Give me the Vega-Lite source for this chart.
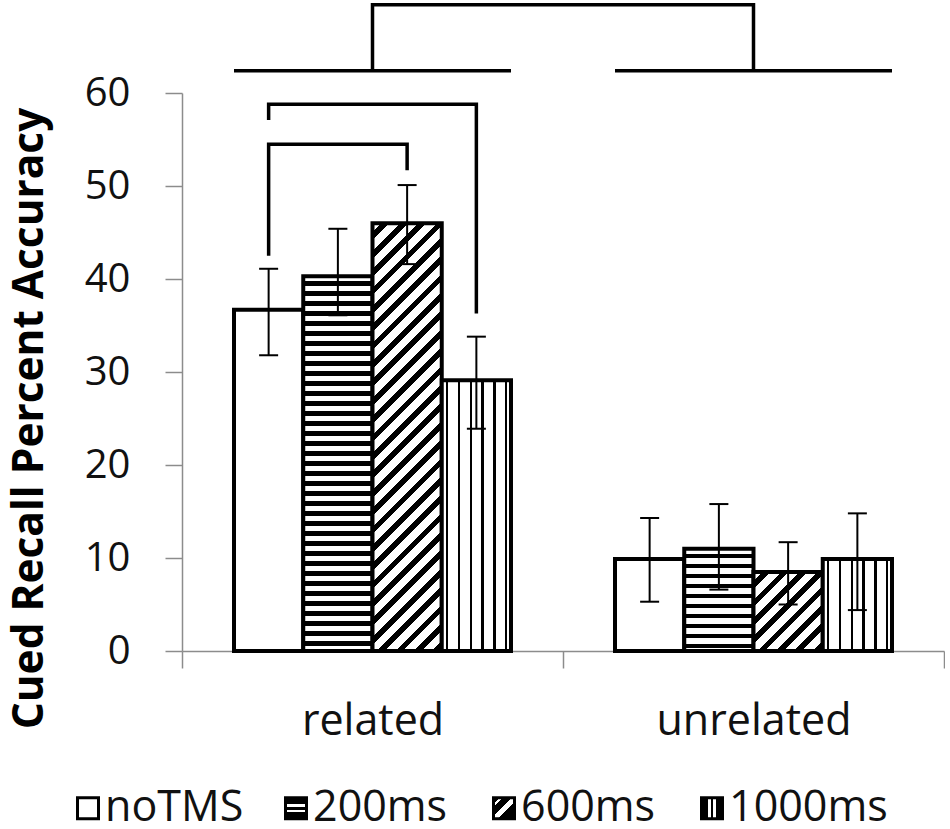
{
  "$schema": "https://vega.github.io/schema/vega-lite/v6.json",
  "background": "white",
  "padding": {"left": 8, "top": -3, "right": 0, "bottom": 0},
  "config": {"view": {"stroke": null}, "font": "Open Sans"},
  "datasets": {
    "bars": [
      {"rel": "related", "cond": "noTMS", "v": 36.7, "lo": 31.8, "hi": 41.1},
      {"rel": "related", "cond": "200ms", "v": 40.3, "lo": 36.1, "hi": 45.4},
      {"rel": "related", "cond": "600ms", "v": 46.0, "lo": 41.6, "hi": 50.1},
      {"rel": "related", "cond": "1000ms", "v": 29.1, "lo": 23.9, "hi": 33.8},
      {"rel": "unrelated", "cond": "noTMS", "v": 9.9, "lo": 5.3, "hi": 14.3},
      {"rel": "unrelated", "cond": "200ms", "v": 11.0, "lo": 6.6, "hi": 15.8},
      {"rel": "unrelated", "cond": "600ms", "v": 8.5, "lo": 5.0, "hi": 11.7},
      {"rel": "unrelated", "cond": "1000ms", "v": 9.9, "lo": 4.4, "hi": 14.8}
    ],
    "brackets": [
      {"id": "b1", "ord": 1, "rel": "related", "cond": "noTMS", "v": 57.1},
      {"id": "b1", "ord": 2, "rel": "related", "cond": "noTMS", "v": 58.8},
      {"id": "b1", "ord": 3, "rel": "related", "cond": "1000ms", "v": 58.8},
      {"id": "b1", "ord": 4, "rel": "related", "cond": "1000ms", "v": 36.3},
      {"id": "b2", "ord": 1, "rel": "related", "cond": "noTMS", "v": 42.5},
      {"id": "b2", "ord": 2, "rel": "related", "cond": "noTMS", "v": 54.5},
      {"id": "b2", "ord": 3, "rel": "related", "cond": "600ms", "v": 54.5},
      {"id": "b2", "ord": 4, "rel": "related", "cond": "600ms", "v": 51.7}
    ],
    "topBracket": [
      {"ord": 1, "rel": "related", "v": 62.4},
      {"ord": 2, "rel": "related", "v": 69.5},
      {"ord": 3, "rel": "unrelated", "v": 69.5},
      {"ord": 4, "rel": "unrelated", "v": 62.4}
    ],
    "groupLines": [
      {"rel": "related", "v": 62.4},
      {"rel": "unrelated", "v": 62.4}
    ]
  },
  "width": 762,
  "height": 558,
  "resolve": {"scale": {"x": "independent"}, "axis": {"x": "independent"}},
  "layer": [
    {
      "layer": [
        {
          "data": {"name": "bars"},
          "mark": {"type": "bar", "stroke": "#000", "strokeWidth": 4},
          "encoding": {
            "x": {
              "field": "rel", "type": "nominal", "sort": ["related", "unrelated"], "title": null,
              "scale": {"paddingInner": 0, "paddingOuter": 0},
              "axis": {"labelFontSize": 43, "labelColor": "#111", "labelPadding": 32, "labelAngle": 0, "labelLimit": 500, "tickSize": 17, "tickColor": "#8c8c8c", "tickWidth": 1.5, "domainColor": "#8c8c8c", "domainWidth": 1.5, "tickBand": "extent", "grid": false, "title": null}
            },
            "xOffset": {"field": "cond", "type": "nominal", "sort": ["noTMS", "200ms", "600ms", "1000ms"], "scale": {"paddingInner": 0, "paddingOuter": 0.751}},
            "y": {
              "field": "v", "type": "quantitative", "title": "Cued Recall Percent Accuracy",
              "scale": {"domain": [0, 60], "nice": false},
              "axis": {"values": [0, 10, 20, 30, 40, 50, 60], "labelFontSize": 40, "labelColor": "#111", "labelPadding": 35, "tickSize": 17, "tickColor": "#8c8c8c", "tickWidth": 1.5, "domainColor": "#8c8c8c", "domainWidth": 1.5, "grid": false, "titleFontSize": 42.4, "titleFontWeight": "bold", "titleColor": "#000", "titlePadding": 33, "titleY": 325}
            },
            "fill": {
              "condition": [
                {"test": "datum.cond === '200ms' && datum.rel === 'related'", "value": {"gradient": "linear", "x1": 0, "y1": 0, "x2": 0, "y2": 1, "stops": [
                  {"offset": 0, "color": "#fff"},
                  {"offset": 0.0133, "color": "#fff"}, {"offset": 0.0133, "color": "#000"}, {"offset": 0.0253, "color": "#000"}, {"offset": 0.0253, "color": "#fff"},
                  {"offset": 0.0400, "color": "#fff"}, {"offset": 0.0400, "color": "#000"}, {"offset": 0.0520, "color": "#000"}, {"offset": 0.0520, "color": "#fff"},
                  {"offset": 0.0667, "color": "#fff"}, {"offset": 0.0667, "color": "#000"}, {"offset": 0.0787, "color": "#000"}, {"offset": 0.0787, "color": "#fff"},
                  {"offset": 0.0934, "color": "#fff"}, {"offset": 0.0934, "color": "#000"}, {"offset": 0.1054, "color": "#000"}, {"offset": 0.1054, "color": "#fff"},
                  {"offset": 0.1201, "color": "#fff"}, {"offset": 0.1201, "color": "#000"}, {"offset": 0.1321, "color": "#000"}, {"offset": 0.1321, "color": "#fff"},
                  {"offset": 0.1468, "color": "#fff"}, {"offset": 0.1468, "color": "#000"}, {"offset": 0.1588, "color": "#000"}, {"offset": 0.1588, "color": "#fff"},
                  {"offset": 0.1734, "color": "#fff"}, {"offset": 0.1734, "color": "#000"}, {"offset": 0.1854, "color": "#000"}, {"offset": 0.1854, "color": "#fff"},
                  {"offset": 0.2001, "color": "#fff"}, {"offset": 0.2001, "color": "#000"}, {"offset": 0.2121, "color": "#000"}, {"offset": 0.2121, "color": "#fff"},
                  {"offset": 0.2268, "color": "#fff"}, {"offset": 0.2268, "color": "#000"}, {"offset": 0.2388, "color": "#000"}, {"offset": 0.2388, "color": "#fff"},
                  {"offset": 0.2535, "color": "#fff"}, {"offset": 0.2535, "color": "#000"}, {"offset": 0.2655, "color": "#000"}, {"offset": 0.2655, "color": "#fff"},
                  {"offset": 0.2802, "color": "#fff"}, {"offset": 0.2802, "color": "#000"}, {"offset": 0.2922, "color": "#000"}, {"offset": 0.2922, "color": "#fff"},
                  {"offset": 0.3068, "color": "#fff"}, {"offset": 0.3068, "color": "#000"}, {"offset": 0.3188, "color": "#000"}, {"offset": 0.3188, "color": "#fff"},
                  {"offset": 0.3335, "color": "#fff"}, {"offset": 0.3335, "color": "#000"}, {"offset": 0.3455, "color": "#000"}, {"offset": 0.3455, "color": "#fff"},
                  {"offset": 0.3602, "color": "#fff"}, {"offset": 0.3602, "color": "#000"}, {"offset": 0.3722, "color": "#000"}, {"offset": 0.3722, "color": "#fff"},
                  {"offset": 0.3869, "color": "#fff"}, {"offset": 0.3869, "color": "#000"}, {"offset": 0.3989, "color": "#000"}, {"offset": 0.3989, "color": "#fff"},
                  {"offset": 0.4136, "color": "#fff"}, {"offset": 0.4136, "color": "#000"}, {"offset": 0.4256, "color": "#000"}, {"offset": 0.4256, "color": "#fff"},
                  {"offset": 0.4402, "color": "#fff"}, {"offset": 0.4402, "color": "#000"}, {"offset": 0.4522, "color": "#000"}, {"offset": 0.4522, "color": "#fff"},
                  {"offset": 0.4669, "color": "#fff"}, {"offset": 0.4669, "color": "#000"}, {"offset": 0.4789, "color": "#000"}, {"offset": 0.4789, "color": "#fff"},
                  {"offset": 0.4936, "color": "#fff"}, {"offset": 0.4936, "color": "#000"}, {"offset": 0.5056, "color": "#000"}, {"offset": 0.5056, "color": "#fff"},
                  {"offset": 0.5203, "color": "#fff"}, {"offset": 0.5203, "color": "#000"}, {"offset": 0.5323, "color": "#000"}, {"offset": 0.5323, "color": "#fff"},
                  {"offset": 0.5470, "color": "#fff"}, {"offset": 0.5470, "color": "#000"}, {"offset": 0.5590, "color": "#000"}, {"offset": 0.5590, "color": "#fff"},
                  {"offset": 0.5736, "color": "#fff"}, {"offset": 0.5736, "color": "#000"}, {"offset": 0.5856, "color": "#000"}, {"offset": 0.5856, "color": "#fff"},
                  {"offset": 0.6003, "color": "#fff"}, {"offset": 0.6003, "color": "#000"}, {"offset": 0.6123, "color": "#000"}, {"offset": 0.6123, "color": "#fff"},
                  {"offset": 0.6270, "color": "#fff"}, {"offset": 0.6270, "color": "#000"}, {"offset": 0.6390, "color": "#000"}, {"offset": 0.6390, "color": "#fff"},
                  {"offset": 0.6537, "color": "#fff"}, {"offset": 0.6537, "color": "#000"}, {"offset": 0.6657, "color": "#000"}, {"offset": 0.6657, "color": "#fff"},
                  {"offset": 0.6804, "color": "#fff"}, {"offset": 0.6804, "color": "#000"}, {"offset": 0.6924, "color": "#000"}, {"offset": 0.6924, "color": "#fff"},
                  {"offset": 0.7070, "color": "#fff"}, {"offset": 0.7070, "color": "#000"}, {"offset": 0.7190, "color": "#000"}, {"offset": 0.7190, "color": "#fff"},
                  {"offset": 0.7337, "color": "#fff"}, {"offset": 0.7337, "color": "#000"}, {"offset": 0.7457, "color": "#000"}, {"offset": 0.7457, "color": "#fff"},
                  {"offset": 0.7604, "color": "#fff"}, {"offset": 0.7604, "color": "#000"}, {"offset": 0.7724, "color": "#000"}, {"offset": 0.7724, "color": "#fff"},
                  {"offset": 0.7871, "color": "#fff"}, {"offset": 0.7871, "color": "#000"}, {"offset": 0.7991, "color": "#000"}, {"offset": 0.7991, "color": "#fff"},
                  {"offset": 0.8138, "color": "#fff"}, {"offset": 0.8138, "color": "#000"}, {"offset": 0.8258, "color": "#000"}, {"offset": 0.8258, "color": "#fff"},
                  {"offset": 0.8404, "color": "#fff"}, {"offset": 0.8404, "color": "#000"}, {"offset": 0.8524, "color": "#000"}, {"offset": 0.8524, "color": "#fff"},
                  {"offset": 0.8671, "color": "#fff"}, {"offset": 0.8671, "color": "#000"}, {"offset": 0.8791, "color": "#000"}, {"offset": 0.8791, "color": "#fff"},
                  {"offset": 0.8938, "color": "#fff"}, {"offset": 0.8938, "color": "#000"}, {"offset": 0.9058, "color": "#000"}, {"offset": 0.9058, "color": "#fff"},
                  {"offset": 0.9205, "color": "#fff"}, {"offset": 0.9205, "color": "#000"}, {"offset": 0.9325, "color": "#000"}, {"offset": 0.9325, "color": "#fff"},
                  {"offset": 0.9472, "color": "#fff"}, {"offset": 0.9472, "color": "#000"}, {"offset": 0.9592, "color": "#000"}, {"offset": 0.9592, "color": "#fff"},
                  {"offset": 0.9738, "color": "#fff"}, {"offset": 0.9738, "color": "#000"}, {"offset": 0.9858, "color": "#000"}, {"offset": 0.9858, "color": "#fff"},
                  {"offset": 1, "color": "#fff"}
                ]}},
                {"test": "datum.cond === '200ms' && datum.rel === 'unrelated'", "value": {"gradient": "linear", "x1": 0, "y1": 0, "x2": 0, "y2": 1, "stops": [
                  {"offset": 0, "color": "#fff"},
                  {"offset": 0.0489, "color": "#fff"}, {"offset": 0.0489, "color": "#000"}, {"offset": 0.0929, "color": "#000"}, {"offset": 0.0929, "color": "#fff"},
                  {"offset": 0.1466, "color": "#fff"}, {"offset": 0.1466, "color": "#000"}, {"offset": 0.1906, "color": "#000"}, {"offset": 0.1906, "color": "#fff"},
                  {"offset": 0.2444, "color": "#fff"}, {"offset": 0.2444, "color": "#000"}, {"offset": 0.2884, "color": "#000"}, {"offset": 0.2884, "color": "#fff"},
                  {"offset": 0.3421, "color": "#fff"}, {"offset": 0.3421, "color": "#000"}, {"offset": 0.3861, "color": "#000"}, {"offset": 0.3861, "color": "#fff"},
                  {"offset": 0.4399, "color": "#fff"}, {"offset": 0.4399, "color": "#000"}, {"offset": 0.4839, "color": "#000"}, {"offset": 0.4839, "color": "#fff"},
                  {"offset": 0.5376, "color": "#fff"}, {"offset": 0.5376, "color": "#000"}, {"offset": 0.5816, "color": "#000"}, {"offset": 0.5816, "color": "#fff"},
                  {"offset": 0.6354, "color": "#fff"}, {"offset": 0.6354, "color": "#000"}, {"offset": 0.6794, "color": "#000"}, {"offset": 0.6794, "color": "#fff"},
                  {"offset": 0.7331, "color": "#fff"}, {"offset": 0.7331, "color": "#000"}, {"offset": 0.7771, "color": "#000"}, {"offset": 0.7771, "color": "#fff"},
                  {"offset": 0.8309, "color": "#fff"}, {"offset": 0.8309, "color": "#000"}, {"offset": 0.8749, "color": "#000"}, {"offset": 0.8749, "color": "#fff"},
                  {"offset": 0.9286, "color": "#fff"}, {"offset": 0.9286, "color": "#000"}, {"offset": 0.9726, "color": "#000"}, {"offset": 0.9726, "color": "#fff"},
                  {"offset": 1, "color": "#fff"}
                ]}},
                {"test": "datum.cond === '600ms' && datum.rel === 'related'", "value": {"gradient": "linear", "x1": 0, "y1": 0, "x2": 0.1833, "y2": 1.1322, "stops": [
                  {"offset": 0, "color": "#fff"},
                  {"offset": 0.0185, "color": "#fff"}, {"offset": 0.0185, "color": "#000"}, {"offset": 0.0342, "color": "#000"}, {"offset": 0.0342, "color": "#fff"},
                  {"offset": 0.0555, "color": "#fff"}, {"offset": 0.0555, "color": "#000"}, {"offset": 0.0712, "color": "#000"}, {"offset": 0.0712, "color": "#fff"},
                  {"offset": 0.0925, "color": "#fff"}, {"offset": 0.0925, "color": "#000"}, {"offset": 0.1081, "color": "#000"}, {"offset": 0.1081, "color": "#fff"},
                  {"offset": 0.1295, "color": "#fff"}, {"offset": 0.1295, "color": "#000"}, {"offset": 0.1451, "color": "#000"}, {"offset": 0.1451, "color": "#fff"},
                  {"offset": 0.1665, "color": "#fff"}, {"offset": 0.1665, "color": "#000"}, {"offset": 0.1821, "color": "#000"}, {"offset": 0.1821, "color": "#fff"},
                  {"offset": 0.2034, "color": "#fff"}, {"offset": 0.2034, "color": "#000"}, {"offset": 0.2191, "color": "#000"}, {"offset": 0.2191, "color": "#fff"},
                  {"offset": 0.2404, "color": "#fff"}, {"offset": 0.2404, "color": "#000"}, {"offset": 0.2561, "color": "#000"}, {"offset": 0.2561, "color": "#fff"},
                  {"offset": 0.2774, "color": "#fff"}, {"offset": 0.2774, "color": "#000"}, {"offset": 0.2931, "color": "#000"}, {"offset": 0.2931, "color": "#fff"},
                  {"offset": 0.3144, "color": "#fff"}, {"offset": 0.3144, "color": "#000"}, {"offset": 0.3300, "color": "#000"}, {"offset": 0.3300, "color": "#fff"},
                  {"offset": 0.3514, "color": "#fff"}, {"offset": 0.3514, "color": "#000"}, {"offset": 0.3670, "color": "#000"}, {"offset": 0.3670, "color": "#fff"},
                  {"offset": 0.3884, "color": "#fff"}, {"offset": 0.3884, "color": "#000"}, {"offset": 0.4040, "color": "#000"}, {"offset": 0.4040, "color": "#fff"},
                  {"offset": 0.4254, "color": "#fff"}, {"offset": 0.4254, "color": "#000"}, {"offset": 0.4410, "color": "#000"}, {"offset": 0.4410, "color": "#fff"},
                  {"offset": 0.4624, "color": "#fff"}, {"offset": 0.4624, "color": "#000"}, {"offset": 0.4780, "color": "#000"}, {"offset": 0.4780, "color": "#fff"},
                  {"offset": 0.4993, "color": "#fff"}, {"offset": 0.4993, "color": "#000"}, {"offset": 0.5150, "color": "#000"}, {"offset": 0.5150, "color": "#fff"},
                  {"offset": 0.5363, "color": "#fff"}, {"offset": 0.5363, "color": "#000"}, {"offset": 0.5520, "color": "#000"}, {"offset": 0.5520, "color": "#fff"},
                  {"offset": 0.5733, "color": "#fff"}, {"offset": 0.5733, "color": "#000"}, {"offset": 0.5890, "color": "#000"}, {"offset": 0.5890, "color": "#fff"},
                  {"offset": 0.6103, "color": "#fff"}, {"offset": 0.6103, "color": "#000"}, {"offset": 0.6260, "color": "#000"}, {"offset": 0.6260, "color": "#fff"},
                  {"offset": 0.6473, "color": "#fff"}, {"offset": 0.6473, "color": "#000"}, {"offset": 0.6629, "color": "#000"}, {"offset": 0.6629, "color": "#fff"},
                  {"offset": 0.6843, "color": "#fff"}, {"offset": 0.6843, "color": "#000"}, {"offset": 0.6999, "color": "#000"}, {"offset": 0.6999, "color": "#fff"},
                  {"offset": 0.7213, "color": "#fff"}, {"offset": 0.7213, "color": "#000"}, {"offset": 0.7369, "color": "#000"}, {"offset": 0.7369, "color": "#fff"},
                  {"offset": 0.7583, "color": "#fff"}, {"offset": 0.7583, "color": "#000"}, {"offset": 0.7739, "color": "#000"}, {"offset": 0.7739, "color": "#fff"},
                  {"offset": 0.7952, "color": "#fff"}, {"offset": 0.7952, "color": "#000"}, {"offset": 0.8109, "color": "#000"}, {"offset": 0.8109, "color": "#fff"},
                  {"offset": 0.8322, "color": "#fff"}, {"offset": 0.8322, "color": "#000"}, {"offset": 0.8479, "color": "#000"}, {"offset": 0.8479, "color": "#fff"},
                  {"offset": 0.8692, "color": "#fff"}, {"offset": 0.8692, "color": "#000"}, {"offset": 0.8849, "color": "#000"}, {"offset": 0.8849, "color": "#fff"},
                  {"offset": 0.9062, "color": "#fff"}, {"offset": 0.9062, "color": "#000"}, {"offset": 0.9218, "color": "#000"}, {"offset": 0.9218, "color": "#fff"},
                  {"offset": 0.9432, "color": "#fff"}, {"offset": 0.9432, "color": "#000"}, {"offset": 0.9588, "color": "#000"}, {"offset": 0.9588, "color": "#fff"},
                  {"offset": 0.9802, "color": "#fff"}, {"offset": 0.9802, "color": "#000"}, {"offset": 0.9958, "color": "#000"}, {"offset": 0.9958, "color": "#fff"},
                  {"offset": 1, "color": "#fff"}
                ]}},
                {"test": "datum.cond === '600ms' && datum.rel === 'unrelated'", "value": {"gradient": "linear", "x1": 0, "y1": 0, "x2": 0.9299, "y2": 1.0615, "stops": [
                  {"offset": 0, "color": "#fff"},
                  {"offset": 0.0620, "color": "#fff"}, {"offset": 0.0620, "color": "#000"}, {"offset": 0.1145, "color": "#000"}, {"offset": 0.1145, "color": "#fff"},
                  {"offset": 0.1860, "color": "#fff"}, {"offset": 0.1860, "color": "#000"}, {"offset": 0.2384, "color": "#000"}, {"offset": 0.2384, "color": "#fff"},
                  {"offset": 0.3099, "color": "#fff"}, {"offset": 0.3099, "color": "#000"}, {"offset": 0.3624, "color": "#000"}, {"offset": 0.3624, "color": "#fff"},
                  {"offset": 0.4339, "color": "#fff"}, {"offset": 0.4339, "color": "#000"}, {"offset": 0.4864, "color": "#000"}, {"offset": 0.4864, "color": "#fff"},
                  {"offset": 0.5579, "color": "#fff"}, {"offset": 0.5579, "color": "#000"}, {"offset": 0.6103, "color": "#000"}, {"offset": 0.6103, "color": "#fff"},
                  {"offset": 0.6818, "color": "#fff"}, {"offset": 0.6818, "color": "#000"}, {"offset": 0.7343, "color": "#000"}, {"offset": 0.7343, "color": "#fff"},
                  {"offset": 0.8058, "color": "#fff"}, {"offset": 0.8058, "color": "#000"}, {"offset": 0.8583, "color": "#000"}, {"offset": 0.8583, "color": "#fff"},
                  {"offset": 0.9298, "color": "#fff"}, {"offset": 0.9298, "color": "#000"}, {"offset": 0.9822, "color": "#000"}, {"offset": 0.9822, "color": "#fff"},
                  {"offset": 1, "color": "#fff"}
                ]}},
                {"test": "datum.cond === '1000ms'", "value": {"gradient": "linear", "x1": 0, "y1": 0, "x2": 1, "y2": 0, "stops": [
                  {"offset": 0, "color": "#fff"},
                  {"offset": 0.063, "color": "#fff"}, {"offset": 0.063, "color": "#000"}, {"offset": 0.097, "color": "#000"}, {"offset": 0.097, "color": "#fff"},
                  {"offset": 0.233, "color": "#fff"}, {"offset": 0.233, "color": "#000"}, {"offset": 0.267, "color": "#000"}, {"offset": 0.267, "color": "#fff"},
                  {"offset": 0.403, "color": "#fff"}, {"offset": 0.403, "color": "#000"}, {"offset": 0.437, "color": "#000"}, {"offset": 0.437, "color": "#fff"},
                  {"offset": 0.573, "color": "#fff"}, {"offset": 0.573, "color": "#000"}, {"offset": 0.607, "color": "#000"}, {"offset": 0.607, "color": "#fff"},
                  {"offset": 0.743, "color": "#fff"}, {"offset": 0.743, "color": "#000"}, {"offset": 0.777, "color": "#000"}, {"offset": 0.777, "color": "#fff"},
                  {"offset": 0.913, "color": "#fff"}, {"offset": 0.913, "color": "#000"}, {"offset": 0.947, "color": "#000"}, {"offset": 0.947, "color": "#fff"},
                  {"offset": 1, "color": "#fff"}
                ]}}
              ],
              "value": "#fff"
            }
          }
        },
        {
          "data": {"name": "bars"},
          "mark": {"type": "rule", "strokeWidth": 2, "color": "#000"},
          "encoding": {
            "x": {"field": "rel", "type": "nominal", "sort": ["related", "unrelated"], "title": null},
            "xOffset": {"field": "cond", "type": "nominal", "sort": ["noTMS", "200ms", "600ms", "1000ms"]},
            "y": {"field": "lo", "type": "quantitative", "title": "Cued Recall Percent Accuracy"},
            "y2": {"field": "hi"}
          }
        },
        {
          "data": {"name": "bars"},
          "mark": {"type": "tick", "size": 19, "thickness": 2, "color": "#000", "opacity": 1},
          "encoding": {
            "x": {"field": "rel", "type": "nominal", "sort": ["related", "unrelated"], "title": null},
            "xOffset": {"field": "cond", "type": "nominal", "sort": ["noTMS", "200ms", "600ms", "1000ms"]},
            "y": {"field": "lo", "type": "quantitative", "title": "Cued Recall Percent Accuracy"}
          }
        },
        {
          "data": {"name": "bars"},
          "mark": {"type": "tick", "size": 19, "thickness": 2, "color": "#000", "opacity": 1},
          "encoding": {
            "x": {"field": "rel", "type": "nominal", "sort": ["related", "unrelated"], "title": null},
            "xOffset": {"field": "cond", "type": "nominal", "sort": ["noTMS", "200ms", "600ms", "1000ms"]},
            "y": {"field": "hi", "type": "quantitative", "title": "Cued Recall Percent Accuracy"}
          }
        },
        {
          "data": {"name": "brackets"},
          "mark": {"type": "line", "strokeWidth": 3.5, "color": "#000"},
          "encoding": {
            "x": {"field": "rel", "type": "nominal", "sort": ["related", "unrelated"], "title": null},
            "xOffset": {"field": "cond", "type": "nominal", "sort": ["noTMS", "200ms", "600ms", "1000ms"]},
            "y": {"field": "v", "type": "quantitative", "title": "Cued Recall Percent Accuracy"},
            "detail": {"field": "id"},
            "order": {"field": "ord", "type": "quantitative"}
          }
        },
        {
          "data": {"name": "topBracket"},
          "mark": {"type": "line", "strokeWidth": 3.5, "color": "#000"},
          "encoding": {
            "x": {"field": "rel", "type": "nominal", "sort": ["related", "unrelated"], "title": null},
            "y": {"field": "v", "type": "quantitative", "title": "Cued Recall Percent Accuracy"},
            "order": {"field": "ord", "type": "quantitative"}
          }
        },
        {
          "data": {"name": "groupLines"},
          "mark": {"type": "tick", "size": 277, "thickness": 3.5, "color": "#000", "opacity": 1},
          "encoding": {
            "x": {"field": "rel", "type": "nominal", "sort": ["related", "unrelated"], "title": null},
            "y": {"field": "v", "type": "quantitative", "title": "Cued Recall Percent Accuracy"}
          }
        }
      ]
    },
    {
      "data": {"name": "bars"},
      "transform": [{"filter": "datum.rel === 'related'"}],
      "layer": [
        {
          "mark": {"type": "square", "size": 441, "stroke": "#000", "strokeWidth": 3, "opacity": 1, "filled": true},
          "encoding": {
            "x": {"field": "cond", "type": "nominal", "sort": ["noTMS", "200ms", "600ms", "1000ms"], "bandPosition": 0.375, "axis": null, "scale": {"type": "band", "range": [-172, 660], "paddingInner": 0, "paddingOuter": 0}},
            "y": {"datum": -16.9, "type": "quantitative"},
            "fill": {
              "condition": [
                {"test": "datum.cond === '200ms'", "value": {"gradient": "linear", "x1": 0, "y1": 0, "x2": 0, "y2": 1, "stops": [
                  {"offset": 0, "color": "#000"}, {"offset": 0.3, "color": "#000"}, {"offset": 0.3, "color": "#fff"}, {"offset": 0.43, "color": "#fff"}, {"offset": 0.43, "color": "#000"},
                  {"offset": 0.57, "color": "#000"}, {"offset": 0.57, "color": "#fff"}, {"offset": 0.7, "color": "#fff"}, {"offset": 0.7, "color": "#000"}, {"offset": 1, "color": "#000"}
                ]}},
                {"test": "datum.cond === '600ms'", "value": {"gradient": "linear", "x1": 0, "y1": 0, "x2": 1, "y2": 1, "stops": [
                  {"offset": 0, "color": "#000"}, {"offset": 0.14, "color": "#000"}, {"offset": 0.14, "color": "#fff"}, {"offset": 0.22, "color": "#fff"}, {"offset": 0.22, "color": "#000"},
                  {"offset": 0.43, "color": "#000"}, {"offset": 0.43, "color": "#fff"}, {"offset": 0.6, "color": "#fff"}, {"offset": 0.6, "color": "#000"}, {"offset": 1, "color": "#000"}
                ]}},
                {"test": "datum.cond === '1000ms'", "value": {"gradient": "linear", "x1": 0, "y1": 0, "x2": 1, "y2": 0, "stops": [
                  {"offset": 0, "color": "#000"}, {"offset": 0.3, "color": "#000"}, {"offset": 0.3, "color": "#fff"}, {"offset": 0.43, "color": "#fff"}, {"offset": 0.43, "color": "#000"},
                  {"offset": 0.57, "color": "#000"}, {"offset": 0.57, "color": "#fff"}, {"offset": 0.7, "color": "#fff"}, {"offset": 0.7, "color": "#000"}, {"offset": 1, "color": "#000"}
                ]}}
              ],
              "value": "#fff"
            }
          }
        },
        {
          "mark": {"type": "text", "align": "left", "baseline": "middle", "fontSize": 43, "color": "#111"},
          "encoding": {
            "x": {"field": "cond", "type": "nominal", "sort": ["noTMS", "200ms", "600ms", "1000ms"], "bandPosition": 0.457, "axis": null, "scale": {"type": "band", "range": [-172, 660], "paddingInner": 0, "paddingOuter": 0}},
            "y": {"datum": -16.9, "type": "quantitative"},
            "text": {"field": "cond"}
          }
        }
      ]
    }
  ]
}
